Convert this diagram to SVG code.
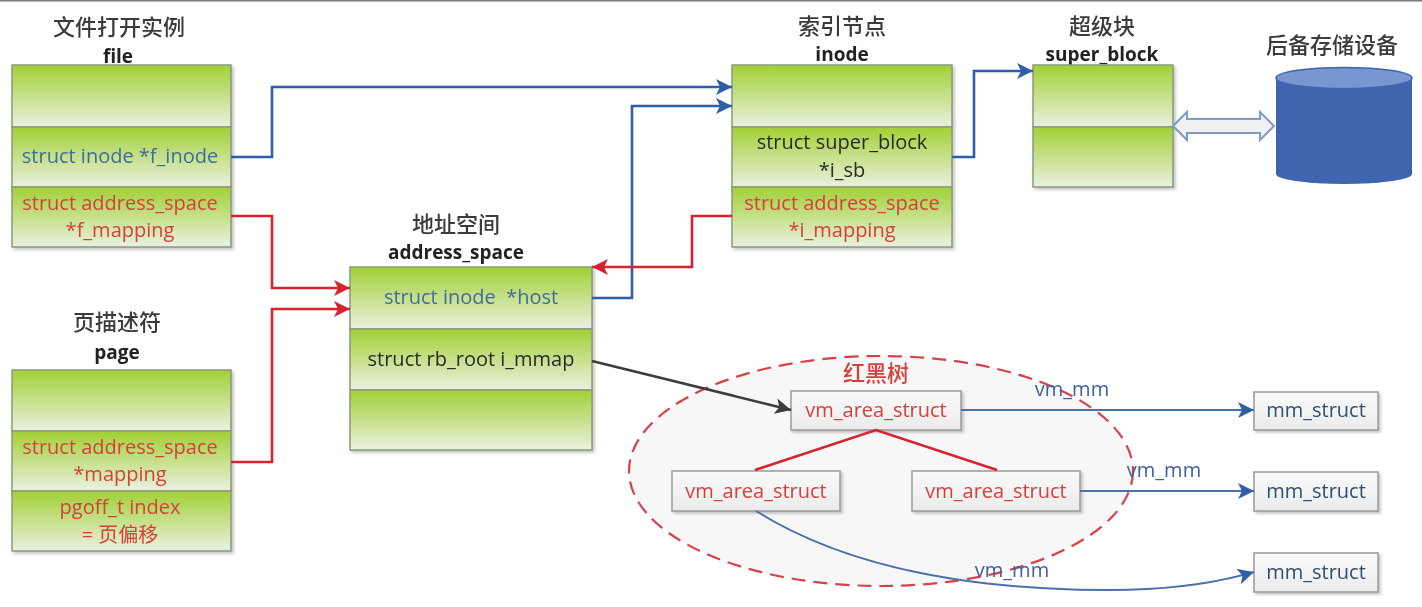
<svg xmlns="http://www.w3.org/2000/svg" width="1422" height="607" viewBox="0 0 1422 607">
<defs>
<linearGradient id="g" x1="0" y1="0" x2="0" y2="1"><stop offset="0" stop-color="#a2d035"/><stop offset="1" stop-color="#eaf1e0"/></linearGradient>
<linearGradient id="w" x1="0" y1="0" x2="0" y2="1"><stop offset="0" stop-color="#fafafa"/><stop offset="1" stop-color="#ebebeb"/></linearGradient>
<marker id="ab" markerUnits="userSpaceOnUse" markerWidth="18" markerHeight="16" refX="16" refY="8" orient="auto"><path d="M0 0L16 8L0 16L4 8Z" fill="#2f5ea8"/></marker>
<marker id="ar" markerUnits="userSpaceOnUse" markerWidth="18" markerHeight="16" refX="16" refY="8" orient="auto"><path d="M0 0L16 8L0 16L4 8Z" fill="#d8242f"/></marker>
<marker id="ak" markerUnits="userSpaceOnUse" markerWidth="18" markerHeight="16" refX="16" refY="8" orient="auto"><path d="M0 0L16 8L0 16L4 8Z" fill="#3c3c3c"/></marker>
<filter id="s" x="-5%" y="-5%" width="110%" height="115%"><feDropShadow dx="2" dy="2" stdDeviation="1.5" flood-color="#888" flood-opacity=".5"/></filter>
<filter id="b" x="-5%" y="-5%" width="110%" height="110%"><feGaussianBlur stdDeviation="0.5"/></filter>
</defs>
<style>
text{font-family:"Open Sans","Noto Sans","Noto Sans CJK SC",sans-serif;font-size:20px;text-anchor:middle;white-space:pre}
.t{font-family:"Noto Sans CJK SC",sans-serif;font-size:22px;font-weight:500;fill:#3a3a3a}
.h{font-weight:700;font-size:19px;fill:#222}
.bl{fill:#3f6d9c}.rd{fill:#d5403c}.k{fill:#2a2a2a}
.c{fill:url(#g);stroke:#8a9a7a;stroke-width:1.5}
.v{fill:url(#w);stroke:#9a9a9a;stroke-width:1.5}
.l{fill:none;stroke-width:2.6}
.lb{stroke:#2f5ea8}.lr{stroke:#d8242f}
.th{fill:none;stroke:#4a6fa8;stroke-width:2}
.m{font-size:20px;fill:#3f5f9f}
.mm{fill:#2f4f6f}
</style>
<rect width="1422" height="1.5" fill="#777"/>
<g filter="url(#b)">
<g id="rbtree"><ellipse cx="881" cy="471" rx="252" ry="115" fill="#f7f7f7" stroke="#d9404a" stroke-width="2.2" stroke-dasharray="14 8"/><text x="876" y="381" class="t" style="fill:#d5403c">红黑树</text></g>
<g id="file">
<text x="119" y="35" class="t">文件打开实例</text><text x="118" y="63" class="h">file</text>
<g filter="url(#s)"><rect class="c" x="12" y="65" width="219" height="62"/><rect class="c" x="12" y="127" width="219" height="60"/><rect class="c" x="12" y="187" width="219" height="60"/></g>
<text x="120" y="163" class="bl">struct inode *f_inode</text>
<text x="120" y="210" class="rd">struct address_space</text><text x="120" y="237" class="rd">*f_mapping</text>
</g>
<g id="page">
<text x="117" y="330" class="t">页描述符</text><text x="117" y="359" class="h">page</text>
<g filter="url(#s)"><rect class="c" x="12" y="370" width="219" height="61"/><rect class="c" x="12" y="431" width="219" height="60"/><rect class="c" x="12" y="491" width="219" height="60"/></g>
<text x="120" y="454" class="rd">struct address_space</text><text x="120" y="481" class="rd">*mapping</text>
<text x="120" y="514" class="rd">pgoff_t index</text><text x="120" y="542" class="rd">= 页偏移</text>
</g>
<g id="address_space">
<text x="456" y="232" class="t">地址空间</text><text x="456" y="259" class="h">address_space</text>
<g filter="url(#s)"><rect class="c" x="350" y="267" width="242" height="62"/><rect class="c" x="350" y="329" width="242" height="61"/><rect class="c" x="350" y="390" width="242" height="60"/></g>
<text x="471" y="304" class="bl">struct inode  *host</text>
<text x="471" y="366" class="k">struct rb_root i_mmap</text>
</g>
<g id="inode">
<text x="842" y="34" class="t">索引节点</text><text x="842" y="61" class="h">inode</text>
<g filter="url(#s)"><rect class="c" x="732" y="65" width="220" height="62"/><rect class="c" x="732" y="127" width="220" height="60"/><rect class="c" x="732" y="187" width="220" height="60"/></g>
<text x="842" y="149" class="k">struct super_block</text><text x="842" y="177" class="k">*i_sb</text>
<text x="842" y="210" class="rd">struct address_space</text><text x="842" y="237" class="rd">*i_mapping</text>
</g>
<g id="super_block">
<text x="1102" y="34" class="t">超级块</text><text x="1102" y="61" class="h">super_block</text>
<g filter="url(#s)"><rect class="c" x="1033" y="65" width="140" height="62"/><rect class="c" x="1033" y="127" width="140" height="60"/></g>
</g>
<g id="storage">
<text x="1332" y="53" class="t">后备存储设备</text>
<path d="M1276 78V174A68 10 0 0 0 1412 174V78Z" fill="#3f65ae"/><ellipse cx="1344" cy="78" rx="68" ry="10.500" fill="#7896d0" stroke="#3f65ae" stroke-width="1.500"/>
</g>
<g id="vma1"><rect class="v" x="791" y="391" width="170" height="39" filter="url(#s)"/><text x="876" y="417" class="rd">vm_area_struct</text></g>
<g id="vma2"><rect class="v" x="672" y="471" width="168" height="40" filter="url(#s)"/><text x="756" y="498" class="rd">vm_area_struct</text></g>
<g id="vma3"><rect class="v" x="912" y="471" width="168" height="40" filter="url(#s)"/><text x="996" y="498" class="rd">vm_area_struct</text></g>
<g id="mm1"><rect class="v" x="1254" y="392" width="124" height="38" filter="url(#s)"/><text x="1316" y="417" class="mm">mm_struct</text></g>
<g id="mm2"><rect class="v" x="1254" y="472" width="124" height="39" filter="url(#s)"/><text x="1316" y="498" class="mm">mm_struct</text></g>
<g id="mm3"><rect class="v" x="1254" y="553" width="124" height="39" filter="url(#s)"/><text x="1316" y="579" class="mm">mm_struct</text></g>
<g id="connectors">
<path class="l lb" marker-end="url(#ab)" d="M231 157H272V87H732"/>
<path class="l lb" marker-end="url(#ab)" d="M592 298H632V106H732"/>
<path class="l lb" marker-end="url(#ab)" d="M952 157H974V71H1033"/>
<path class="l lr" marker-end="url(#ar)" d="M231 216H272V288H350"/>
<path class="l lr" marker-end="url(#ar)" d="M231 462H272V309H350"/>
<path class="l lr" marker-end="url(#ar)" d="M732 216H692V267H592"/>
<path class="l" stroke="#3c3c3c" marker-end="url(#ak)" d="M592 361L791 410"/>
<path class="l lr" d="M755 470L876 430L997 470" stroke-linejoin="miter"/>
<path class="th" marker-end="url(#ab)" d="M961 410H1254"/>
<path class="th" marker-end="url(#ab)" d="M1080 491H1254"/>
<path class="th" marker-end="url(#ab)" d="M756 511C850 570 980 590 1110 590C1170 590 1220 582 1254 572"/>
<path d="M1173 126L1187 112V119H1260V112L1274 126L1260 140V133H1187V140Z" fill="#f1f1f1" stroke="#7e9cc6" stroke-width="2"/>
</g>
<g id="labels"><text x="1072" y="396" class="m">vm_mm</text><text x="1164" y="477" class="m">vm_mm</text><text x="1012" y="577" class="m">vm_mm</text></g>
</g>
</svg>
